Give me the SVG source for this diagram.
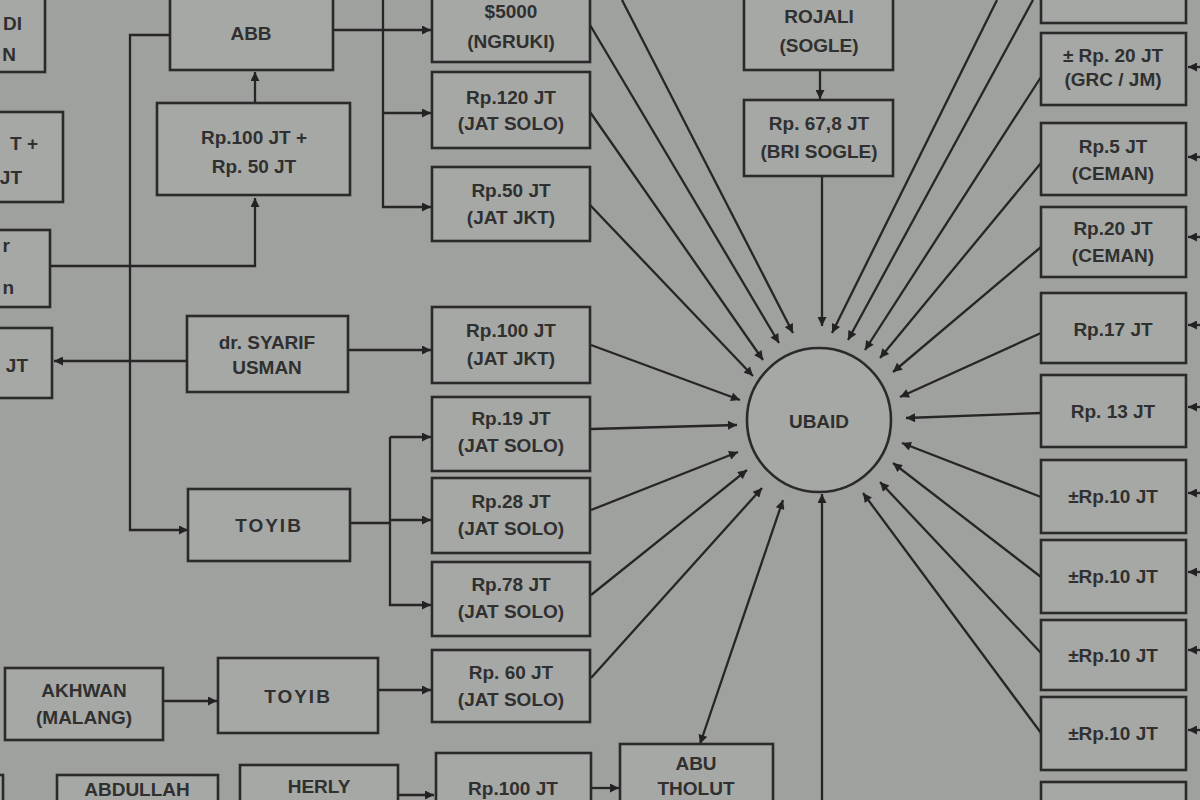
<svg xmlns="http://www.w3.org/2000/svg" width="1200" height="800" viewBox="0 0 1200 800">
<defs>
<style>
.bg{fill:#9fa19e}
.box{fill:#a6a8a5;stroke:#2a2a2a;stroke-width:2.6}
.t{font-family:"Liberation Sans",Arial,sans-serif;font-size:19px;font-weight:bold;fill:#303030;text-anchor:middle}
.te{font-family:"Liberation Sans",Arial,sans-serif;font-size:19px;font-weight:bold;fill:#303030;text-anchor:end}
.c{fill:none;stroke:#262626;stroke-width:2.3}
.ca{fill:none;stroke:#262626;stroke-width:2.3;marker-end:url(#ah)}
.cb{fill:none;stroke:#262626;stroke-width:2.3;marker-end:url(#ah);marker-start:url(#ah)}
</style>
<marker id="ah" viewBox="0 0 10 10" refX="10" refY="5" markerWidth="11" markerHeight="9" markerUnits="userSpaceOnUse" orient="auto-start-reverse">
<path d="M0,0 L10,5 L0,10 z" fill="#222"/>
</marker>
</defs>
<rect class="bg" x="0" y="0" width="1200" height="800"/>

<g id="connectors">
<path class="ca" d="M255,103 V72"/>
<path class="ca" d="M51,266 H255 V198"/>
<path class="ca" d="M170,35 H130 V530 H188"/>
<path class="ca" d="M333,30 H431"/>
<path class="ca" d="M383,0 V207 H431"/>
<path class="ca" d="M383,113 H431"/>
<path class="ca" d="M187,361 H54"/>
<path class="ca" d="M348,350 H431"/>
<path class="c" d="M350,523 H390"/>
<path class="ca" d="M390,437 V605 H431"/>
<path class="ca" d="M390,437 H431"/>
<path class="ca" d="M390,520 H431"/>
<path class="ca" d="M164,701 H217"/>
<path class="ca" d="M378,690 H431"/>
<path class="ca" d="M399,795 H434"/>
<path class="ca" d="M591,788 H619"/>
<path class="ca" d="M820,70 V99"/>
<path class="ca" d="M822,176 V326"/>
<path class="ca" d="M822,800 V494"/>
<path class="ca" d="M622,0 L793,333"/>
<path class="ca" d="M590,25 L779,343"/>
<path class="ca" d="M590,112 L763,360"/>
<path class="ca" d="M590,205 L753,376"/>
<path class="ca" d="M591,345 L740,400"/>
<path class="ca" d="M591,429 L737,425"/>
<path class="ca" d="M591,510 L738,452"/>
<path class="ca" d="M591,595 L747,470"/>
<path class="ca" d="M591,678 L762,488"/>
<path class="cb" d="M783,500 L700,744"/>
<path class="ca" d="M997,0 L832,333"/>
<path class="ca" d="M1033,0 L848,340"/>
<path class="ca" d="M1041,77 L865,350"/>
<path class="ca" d="M1041,163 L880,358"/>
<path class="ca" d="M1041,247 L893,372"/>
<path class="ca" d="M1041,333 L900,397"/>
<path class="ca" d="M1041,413 L906,418"/>
<path class="ca" d="M1041,497 L902,443"/>
<path class="ca" d="M1041,577 L893,463"/>
<path class="ca" d="M1041,653 L880,482"/>
<path class="ca" d="M1041,733 L863,493"/>
<path class="ca" d="M1200,67 H1188"/>
<path class="ca" d="M1200,157 H1188"/>
<path class="ca" d="M1200,237 H1188"/>
<path class="ca" d="M1200,325 H1188"/>
<path class="ca" d="M1200,407 H1188"/>
<path class="ca" d="M1200,493 H1188"/>
<path class="ca" d="M1200,572 H1188"/>
<path class="ca" d="M1200,650 H1188"/>
<path class="ca" d="M1200,730 H1188"/>
</g>

<g id="left-a"><rect class="box" x="-20" y="-10" width="65" height="82"/><text class="te" x="22" y="30">DI</text><text class="te" x="16" y="61">N</text></g>
<g id="left-b"><rect class="box" x="-20" y="112" width="83" height="90"/><text class="te" x="38" y="150">T +</text><text class="te" x="22" y="184">JT</text></g>
<g id="left-c"><rect class="box" x="-20" y="230" width="70" height="77"/><text class="te" x="10" y="252">r</text><text class="te" x="14" y="294">n</text></g>
<g id="left-d"><rect class="box" x="-20" y="328" width="72" height="70"/><text class="te" x="28" y="372">JT</text></g>

<g id="abb"><rect class="box" x="170" y="-10" width="163" height="80"/><text class="t" x="251" y="40">ABB</text></g>
<g id="rp100-50"><rect class="box" x="157" y="103" width="193" height="92"/><text class="t" x="254" y="144">Rp.100 JT +</text><text class="t" x="254" y="173">Rp. 50 JT</text></g>
<g id="syarif"><rect class="box" x="187" y="316" width="161" height="76"/><text class="t" x="267" y="349">dr. SYARIF</text><text class="t" x="267" y="374">USMAN</text></g>
<g id="toyib1"><rect class="box" x="188" y="489" width="162" height="72"/><text class="t" x="269" y="532" letter-spacing="2">TOYIB</text></g>
<g id="akhwan"><rect class="box" x="5" y="668" width="158" height="72"/><text class="t" x="84" y="697">AKHWAN</text><text class="t" x="84" y="724">(MALANG)</text></g>
<g id="toyib2"><rect class="box" x="218" y="658" width="160" height="75"/><text class="t" x="298" y="703" letter-spacing="2">TOYIB</text></g>

<g id="n5000"><rect class="box" x="432" y="-10" width="158" height="72"/><text class="t" x="511" y="18">$5000</text><text class="t" x="511" y="48">(NGRUKI)</text></g>
<g id="n120"><rect class="box" x="432" y="72" width="158" height="76"/><text class="t" x="511" y="104">Rp.120 JT</text><text class="t" x="511" y="130">(JAT SOLO)</text></g>
<g id="n50"><rect class="box" x="432" y="167" width="158" height="74"/><text class="t" x="511" y="197">Rp.50 JT</text><text class="t" x="511" y="224">(JAT JKT)</text></g>
<g id="n100jkt"><rect class="box" x="432" y="307" width="158" height="76"/><text class="t" x="511" y="337">Rp.100 JT</text><text class="t" x="511" y="365">(JAT JKT)</text></g>
<g id="n19"><rect class="box" x="432" y="397" width="158" height="74"/><text class="t" x="511" y="425">Rp.19 JT</text><text class="t" x="511" y="452">(JAT SOLO)</text></g>
<g id="n28"><rect class="box" x="432" y="478" width="158" height="75"/><text class="t" x="511" y="508">Rp.28 JT</text><text class="t" x="511" y="535">(JAT SOLO)</text></g>
<g id="n78"><rect class="box" x="432" y="562" width="158" height="74"/><text class="t" x="511" y="591">Rp.78 JT</text><text class="t" x="511" y="618">(JAT SOLO)</text></g>
<g id="n60"><rect class="box" x="432" y="650" width="158" height="72"/><text class="t" x="511" y="679">Rp. 60 JT</text><text class="t" x="511" y="706">(JAT SOLO)</text></g>
<g id="n100b"><rect class="box" x="436" y="753" width="155" height="60"/><text class="t" x="513" y="795">Rp.100 JT</text></g>

<g id="abdullah"><rect class="box" x="57" y="775" width="161" height="40"/><text class="t" x="137" y="796">ABDULLAH</text></g>
<g id="herly"><rect class="box" x="240" y="765" width="158" height="50"/><text class="t" x="319" y="793">HERLY</text></g>
<g id="left-e"><rect class="box" x="-20" y="775" width="23" height="40"/></g>
<g id="abu"><rect class="box" x="620" y="744" width="153" height="70"/><text class="t" x="696" y="770">ABU</text><text class="t" x="696" y="795">THOLUT</text></g>

<g id="rojali"><rect class="box" x="744" y="-10" width="149" height="80"/><text class="t" x="819" y="23">ROJALI</text><text class="t" x="819" y="52">(SOGLE)</text></g>
<g id="n678"><rect class="box" x="744" y="100" width="149" height="76"/><text class="t" x="819" y="130">Rp. 67,8 JT</text><text class="t" x="819" y="158">(BRI SOGLE)</text></g>

<g id="ubaid"><circle class="box" cx="819" cy="420" r="72"/><text class="t" x="819" y="428" font-weight="normal" font-size="21">UBAID</text></g>

<g id="r1"><rect class="box" x="1041" y="-10" width="145" height="33"/></g>
<g id="r2"><rect class="box" x="1041" y="33" width="145" height="72"/><text class="t" x="1113" y="62" font-size="16">± Rp. 20 JT</text><text class="t" x="1113" y="86" font-size="16">(GRC / JM)</text></g>
<g id="r3"><rect class="box" x="1041" y="123" width="145" height="72"/><text class="t" x="1113" y="153">Rp.5 JT</text><text class="t" x="1113" y="180">(CEMAN)</text></g>
<g id="r4"><rect class="box" x="1041" y="207" width="145" height="70"/><text class="t" x="1113" y="235">Rp.20 JT</text><text class="t" x="1113" y="262">(CEMAN)</text></g>
<g id="r5"><rect class="box" x="1041" y="293" width="145" height="70"/><text class="t" x="1113" y="336">Rp.17 JT</text></g>
<g id="r6"><rect class="box" x="1041" y="375" width="145" height="72"/><text class="t" x="1113" y="418">Rp. 13 JT</text></g>
<g id="r7"><rect class="box" x="1041" y="460" width="145" height="73"/><text class="t" x="1113" y="503">±Rp.10 JT</text></g>
<g id="r8"><rect class="box" x="1041" y="540" width="145" height="73"/><text class="t" x="1113" y="583">±Rp.10 JT</text></g>
<g id="r9"><rect class="box" x="1041" y="620" width="145" height="70"/><text class="t" x="1113" y="662">±Rp.10 JT</text></g>
<g id="r10"><rect class="box" x="1041" y="697" width="145" height="73"/><text class="t" x="1113" y="740">±Rp.10 JT</text></g>
<g id="r11"><rect class="box" x="1041" y="782" width="145" height="40"/></g>
</svg>
